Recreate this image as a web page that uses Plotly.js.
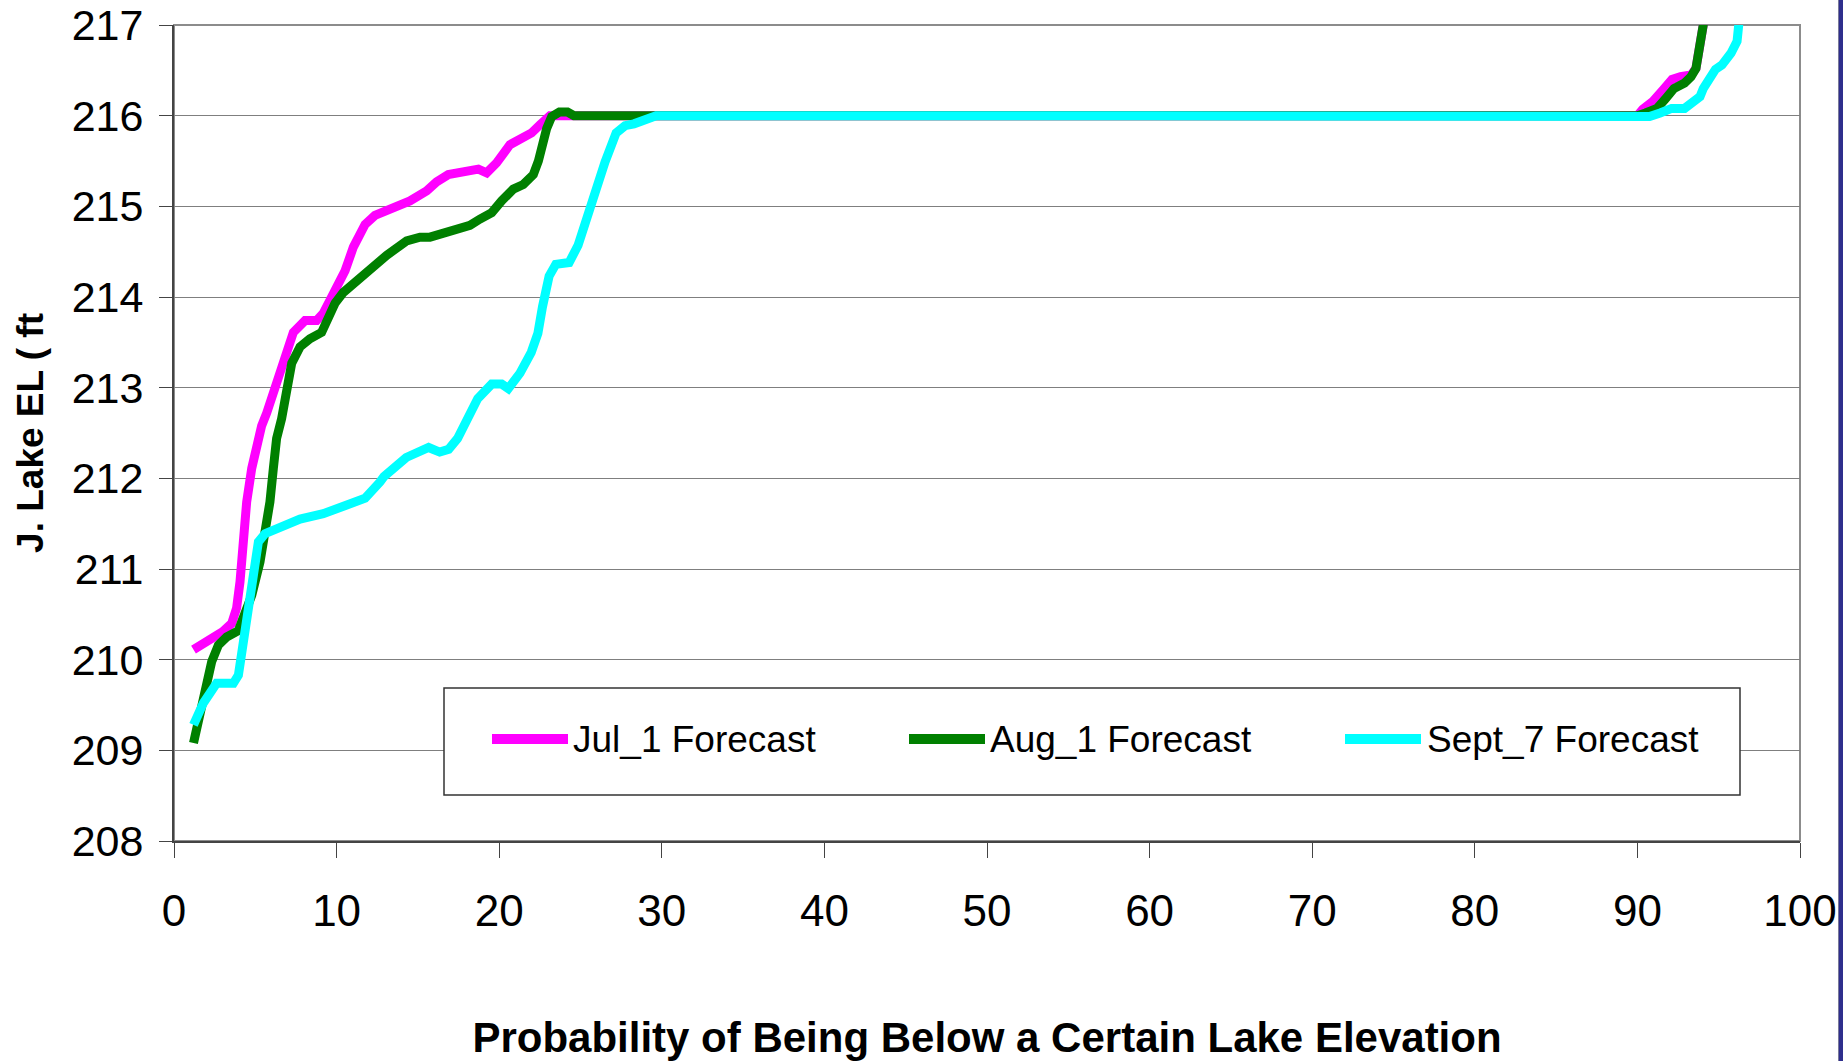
<!DOCTYPE html>
<html>
<head>
<meta charset="utf-8">
<script src="https://cdn.plot.ly/plotly-3.0.1.min.js"></script>
<style>
  html, body { margin: 0; padding: 0; background: #ffffff; }
  #chart { width: 1843px; height: 1061px; }
</style>
</head>
<body>
<div id="chart"></div>
<script>
// ---- Data ----
const seriesNames = ["Jul_1 Forecast", "Aug_1 Forecast", "Sept_7 Forecast"];
const seriesColors = ["#FF00FF", "#008000", "#00FFFF"];

const julX = [1.2, 2.4, 3.0, 3.55, 3.85, 4.06, 4.26, 4.47, 4.78, 5.08, 5.39, 5.7, 6.11, 6.52, 6.93, 7.34, 8.06, 8.77, 9.18, 9.8, 10.52, 11.03, 11.75, 12.36, 13.69, 14.51, 15.54, 16.15, 16.87, 18.2, 18.72, 19.23, 19.84, 20.66, 21.28, 21.99, 22.51, 23.12, 24, 30, 60, 90.0, 90.33, 90.96, 91.6, 92.13, 92.66, 93.3, 93.6, 93.85, 94.05, 94.2];
const julY = [210.11, 210.23, 210.31, 210.40, 210.57, 210.86, 211.30, 211.74, 212.11, 212.38, 212.58, 212.72, 212.96, 213.16, 213.45, 213.61, 213.74, 213.74, 213.82, 214.04, 214.29, 214.55, 214.80, 214.90, 215.00, 215.06, 215.17, 215.27, 215.35, 215.41, 215.41, 215.37, 215.48, 215.68, 215.74, 215.81, 215.90, 216.0, 216.0, 216.0, 216.0, 216.0, 216.07, 216.16, 216.29, 216.40, 216.43, 216.45, 216.52, 216.74, 217.0, 217.3];

const augX = [1.2, 1.5, 1.91, 2.32, 2.73, 3.24, 3.96, 4.37, 4.78, 5.29, 5.6, 5.9, 6.11, 6.31, 6.62, 6.93, 7.24, 7.75, 8.36, 9.08, 9.49, 9.9, 10.41, 11.03, 11.85, 13.08, 14.31, 15.13, 15.74, 16.97, 18.2, 18.82, 19.54, 20.15, 20.87, 21.48, 22.1, 22.41, 22.61, 22.92, 23.23, 23.7, 24.2, 24.6, 30, 60, 90, 90.5, 91.2, 91.7, 92.25, 92.9, 93.3, 93.6, 93.85, 94.05, 94.2];
const augY = [209.08, 209.32, 209.69, 209.98, 210.16, 210.25, 210.32, 210.49, 210.71, 211.08, 211.37, 211.74, 212.11, 212.44, 212.66, 213.05, 213.27, 213.45, 213.54, 213.61, 213.76, 213.93, 214.05, 214.15, 214.27, 214.46, 214.62, 214.66, 214.66, 214.73, 214.79, 214.86, 214.93, 215.06, 215.19, 215.24, 215.35, 215.50, 215.68, 215.86, 215.99, 216.04, 216.04, 216.0, 216.0, 216.0, 216.0, 216.03, 216.08, 216.18, 216.30, 216.36, 216.43, 216.52, 216.74, 217.0, 217.3];

const sepX = [1.2, 1.8, 2.62, 3.65, 3.96, 4.26, 4.57, 4.88, 5.19, 5.6, 6.52, 7.75, 9.18, 11.03, 11.75, 12.67, 12.91, 14.28, 15.66, 16.34, 16.89, 17.44, 17.99, 18.68, 19.54, 20.15, 20.56, 21.28, 21.97, 22.38, 22.66, 23.07, 23.48, 24.3, 24.85, 25.27, 25.82, 26.51, 27.19, 27.74, 28.29, 29.65, 60, 90.2, 90.75, 91.4, 92.1, 92.9, 93.4, 93.85, 94.05, 94.38, 94.8, 95.2, 95.76, 96.13, 96.25, 96.4];
const sepY = [209.28, 209.52, 209.74, 209.74, 209.83, 210.20, 210.64, 211.04, 211.30, 211.39, 211.45, 211.55, 211.61, 211.72, 211.78, 211.96, 212.02, 212.23, 212.34, 212.29, 212.32, 212.44, 212.65, 212.88, 213.04, 213.04, 212.99, 213.16, 213.39, 213.60, 213.89, 214.23, 214.36, 214.38, 214.57, 214.82, 215.16, 215.49, 215.81, 215.89, 215.91, 216.0, 216.0, 216.0, 215.99, 216.03, 216.08, 216.08, 216.14, 216.21, 216.30, 216.40, 216.51, 216.56, 216.69, 216.82, 217.0, 217.3];

const xTickVals = [0, 10, 20, 30, 40, 50, 60, 70, 80, 90, 100];
const yTickVals = [208, 209, 210, 211, 212, 213, 214, 215, 216, 217];
const xTitle = "Probability of Being Below a Certain Lake Elevation";
const yTitle = "J. Lake EL ( ft";

// ---- Layout geometry (pixels of the 1843x1061 page) ----
const W = 1843, H = 1061;
const M = { l: 174, r: 43, t: 25, b: 220 };
const plotW = W - M.l - M.r, plotH = H - M.t - M.b;
const px = X => (X - M.l) / plotW;          // page px -> paper x
const py = Y => (H - M.b - Y) / plotH;      // page px -> paper y

const FONT = "Liberation Sans, Arial, Helvetica, sans-serif";

const xs = [julX, augX, sepX];
const ys = [julY, augY, sepY];
const traces = seriesNames.map((name, i) => ({
  type: "scatter",
  mode: "lines",
  name: name,
  x: xs[i],
  y: ys[i],
  line: { color: seriesColors[i], width: 9 },
  hoverinfo: "x+y+name"
}));

// manual legend (box, sample lines, labels)
const legBox = { x0: 444, x1: 1740, y0: 688, y1: 795 };
const legRowY = 739;
const legItems = [
  { lx0: 492, lx1: 568, tx: 571 },
  { lx0: 909, lx1: 985, tx: 988 },
  { lx0: 1345, lx1: 1421, tx: 1425 }
];

const shapes = [
  // top/right frame of plot area
  { type: "rect", xref: "paper", yref: "paper", x0: 0, x1: 1, y0: 0, y1: 1,
    line: { color: "#8c8c8c", width: 2 }, fillcolor: "rgba(0,0,0,0)", layer: "below" },
  // legend box
  { type: "rect", xref: "paper", yref: "paper",
    x0: px(legBox.x0), x1: px(legBox.x1), y0: py(legBox.y1), y1: py(legBox.y0),
    line: { color: "#333333", width: 1.5 }, fillcolor: "#ffffff", layer: "above" },
  // dark strip at right edge of the picture
  { type: "rect", xref: "paper", yref: "paper",
    x0: px(1838.5), x1: px(1844), y0: py(H + 1), y1: py(-1),
    line: { color: "#7a7a9a", width: 1 }, fillcolor: "#2e2e8c", layer: "above" }
];
const annotations = [];
legItems.forEach((it, i) => {
  shapes.push({ type: "line", xref: "paper", yref: "paper",
    x0: px(it.lx0), x1: px(it.lx1), y0: py(legRowY), y1: py(legRowY),
    line: { color: seriesColors[i], width: 10 }, layer: "above" });
  annotations.push({ xref: "paper", yref: "paper", x: px(it.tx), y: py(legRowY),
    xanchor: "left", yanchor: "middle", showarrow: false, text: seriesNames[i],
    font: { family: FONT, size: 37, color: "#000000" } });
});

const layout = {
  width: W, height: H,
  margin: M,
  paper_bgcolor: "#ffffff",
  plot_bgcolor: "#ffffff",
  showlegend: false,
  font: { family: FONT, color: "#000000" },
  xaxis: {
    range: [0, 100],
    tickvals: xTickVals,
    ticktext: xTickVals.map(String),
    ticks: "outside", ticklen: 15, tickwidth: 1.3, tickcolor: "#444444",
    ticklabelstandoff: 15,
    ticklabeloverflow: "allow",
    tickfont: { family: FONT, size: 44, color: "#000000" },
    showgrid: false, zeroline: false,
    showline: true, linecolor: "#444444", linewidth: 2,
    title: { text: xTitle, standoff: 89,
      font: { family: FONT, size: 42, color: "#000000", weight: "bold" } },
    automargin: false
  },
  yaxis: {
    range: [208, 217],
    tickvals: yTickVals,
    ticktext: yTickVals.map(String),
    ticks: "outside", ticklen: 13, tickwidth: 1.3, tickcolor: "#444444",
    ticklabelstandoff: 7,
    ticklabeloverflow: "allow",
    tickfont: { family: FONT, size: 43, color: "#000000" },
    showgrid: true, gridcolor: "#7f7f7f", gridwidth: 1.3,
    zeroline: false,
    showline: true, linecolor: "#444444", linewidth: 2,
    title: { text: yTitle, standoff: 17,
      font: { family: FONT, size: 37, color: "#000000", weight: "bold" } },
    automargin: false
  },
  shapes: shapes,
  annotations: annotations
};

Plotly.newPlot("chart", traces, layout, { displayModeBar: false, responsive: false });
</script>
</body>
</html>
